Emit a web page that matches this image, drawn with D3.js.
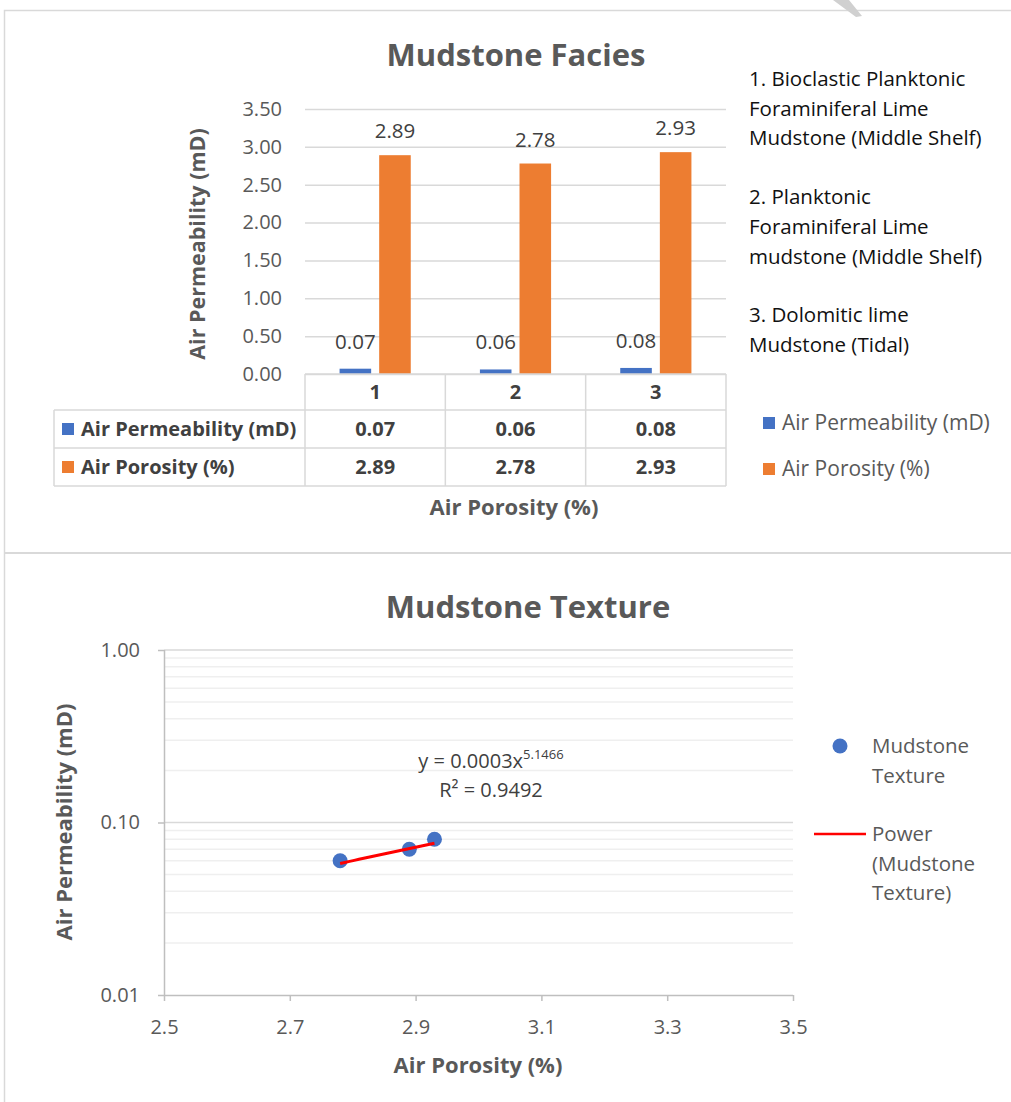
<!DOCTYPE html>
<html>
<head>
<meta charset="utf-8">
<script src="https://cdn.jsdelivr.net/npm/d3@7"></script>
<style>
  html, body { margin: 0; padding: 0; background: #fff; }
  svg { display: block; font-family: "Open Sans", "Noto Sans", sans-serif; }
</style>
</head>
<body>
<svg id="chart" width="1011" height="1102"></svg>
<script>
// ---- data ----
const categories = ["1", "2", "3"];
const permeability = [0.07, 0.06, 0.08];      // Air Permeability (mD)
const porosity = [2.89, 2.78, 2.93];          // Air Porosity (%)
const seriesNames = ["Air Permeability (mD)", "Air Porosity (%)"];
const seriesColors = ["#4472C4", "#ED7D31"];
const barTicks = [0, 0.5, 1, 1.5, 2, 2.5, 3, 3.5];
const faciesNotes = [
  ["1. Bioclastic Planktonic", "Foraminiferal Lime", "Mudstone (Middle Shelf)"],
  ["2. Planktonic", "Foraminiferal Lime", "mudstone (Middle Shelf)"],
  ["3. Dolomitic lime", "Mudstone (Tidal)"]
];
const scatterXTicks = [2.5, 2.7, 2.9, 3.1, 3.3, 3.5];
const scatterYTicks = [0.01, 0.1, 1];
const trendA = 0.0003, trendB = 5.1466, trendR2 = 0.9492;

const svg = d3.select("#chart");
const textGray = "#595959", darkText = "#404040", grid = "#d9d9d9";

// ---- frame ----
svg.append("path").attr("d", "M4.5,1102V10.5H1011").attr("fill", "none").attr("stroke", grid).attr("stroke-width", 1.5);
svg.append("line").attr("x1", 4).attr("x2", 1011).attr("y1", 553).attr("y2", 553).attr("stroke", grid).attr("stroke-width", 2);
svg.append("path").attr("d", "M833,0L849,0L862,16L856,17Z").attr("fill", "#d0d0d0");

// ================= Mudstone Facies (column chart with data table) =================
const g1 = svg.append("g");
g1.append("text").attr("x", 516).attr("y", 66).attr("text-anchor", "middle")
  .attr("font-size", 31).attr("font-weight", 700).attr("fill", textGray).text("Mudstone Facies");

const x1 = d3.scaleBand().domain(categories).range([305, 726]);
const y1 = d3.scaleLinear().domain([0, 3.5]).range([374, 109]);

// gridlines + tick labels
const yAxis1 = d3.axisLeft(y1).tickValues(barTicks).tickFormat(d3.format(".2f")).tickSize(-(726 - 305)).tickPadding(23);
const ya1 = g1.append("g").attr("transform", "translate(305,0)").call(yAxis1);
ya1.select(".domain").remove();
ya1.selectAll(".tick line").attr("stroke", grid).attr("stroke-width", 1.5);
ya1.selectAll(".tick text").attr("font-size", 20).attr("fill", textGray).attr("font-family", "Open Sans");

g1.append("text").attr("transform", "translate(205,244) rotate(-90)").attr("text-anchor", "middle")
  .attr("font-size", 21.5).attr("font-weight", 700).attr("fill", textGray).text("Air Permeability (mD)");

// bars
const bw = x1.bandwidth();
const barFrac = 0.225, innerGap = 0.0286;
const series = [permeability, porosity];
series.forEach((vals, si) => {
  const off = si === 0 ? 0.5 - innerGap - barFrac : 0.5 + innerGap;
  const gs = g1.append("g");
  gs.selectAll("rect").data(vals).enter().append("rect")
    .attr("x", (d, i) => x1(categories[i]) + bw * off)
    .attr("width", bw * barFrac)
    .attr("y", d => y1(d))
    .attr("height", d => y1(0) - y1(d))
    .attr("fill", seriesColors[si]);
  gs.selectAll("text").data(vals).enter().append("text")
    .attr("x", (d, i) => x1(categories[i]) + bw * (off + barFrac / 2))
    .attr("y", d => y1(d) - (si === 0 ? 20 : 17))
    .attr("text-anchor", "middle").attr("font-size", 20.5).attr("fill", darkText)
    .text(d => d3.format(".2f")(d));
});

// data table
const rowY = [374, 410, 448, 486];
const tbl = g1.append("g").attr("stroke", grid).attr("stroke-width", 1.5);
tbl.append("line").attr("x1", 305).attr("x2", 726).attr("y1", rowY[0]).attr("y2", rowY[0]);
rowY.slice(1).forEach(y => tbl.append("line").attr("x1", 54).attr("x2", 726).attr("y1", y).attr("y2", y));
tbl.append("line").attr("x1", 54).attr("x2", 54).attr("y1", rowY[1]).attr("y2", rowY[3]);
[305, 726].concat(categories.slice(1).map(c => x1(c))).forEach(x =>
  tbl.append("line").attr("x1", x).attr("x2", x).attr("y1", rowY[0]).attr("y2", rowY[3]));

g1.selectAll(".hdr").data(categories).enter().append("text")
  .attr("x", d => x1(d) + bw / 2).attr("y", 399).attr("text-anchor", "middle")
  .attr("font-size", 20).attr("font-weight", 700).attr("fill", darkText).text(d => d);

series.forEach((vals, si) => {
  const cy = (rowY[si + 1] + rowY[si + 2]) / 2;
  g1.append("rect").attr("x", 62).attr("y", cy - 6).attr("width", 12).attr("height", 12).attr("fill", seriesColors[si]);
  g1.append("text").attr("x", 81).attr("y", cy + 7).attr("font-size", 20).attr("font-weight", 700)
    .attr("fill", darkText).text(seriesNames[si]);
  g1.selectAll(null).data(vals).enter().append("text")
    .attr("x", (d, i) => x1(categories[i]) + bw / 2).attr("y", cy + 7).attr("text-anchor", "middle")
    .attr("font-size", 20).attr("font-weight", 700).attr("fill", darkText).text(d => d3.format(".2f")(d));
});

g1.append("text").attr("x", 514).attr("y", 515).attr("text-anchor", "middle")
  .attr("font-size", 22).attr("font-weight", 700).attr("fill", textGray).text("Air Porosity (%)");

// facies notes
let ny = 86;
faciesNotes.forEach(block => {
  block.forEach(line => {
    g1.append("text").attr("x", 749).attr("y", ny).attr("font-size", 20.5).attr("fill", "#111").text(line);
    ny += 29.7;
  });
  ny += 29;
});

// legend
seriesNames.forEach((n, i) => {
  const cy = 423 + i * 46;
  g1.append("rect").attr("x", 763).attr("y", cy - 6).attr("width", 12).attr("height", 12).attr("fill", seriesColors[i]);
  g1.append("text").attr("x", 782).attr("y", cy + 7).attr("font-size", 21).attr("fill", textGray).text(n);
});

// ================= Mudstone Texture (log-scale scatter) =================
const g2 = svg.append("g");
g2.append("text").attr("x", 528).attr("y", 618).attr("text-anchor", "middle")
  .attr("font-size", 31).attr("font-weight", 700).attr("fill", textGray).text("Mudstone Texture");

const x2 = d3.scaleLinear().domain([2.5, 3.5]).range([164, 793]);
const y2 = d3.scaleLog().domain([0.01, 1]).range([995, 650]);

// minor + major gridlines
const minorVals = [];
[0.01, 0.1].forEach(dec => { for (let k = 2; k <= 9; k++) minorVals.push(dec * k); });
g2.append("g").selectAll("line").data(minorVals).enter().append("line")
  .attr("x1", 164).attr("x2", 793).attr("y1", d => y2(d)).attr("y2", d => y2(d))
  .attr("stroke", "#efefef").attr("stroke-width", 1.5);
g2.append("g").selectAll("line").data([0.1, 1]).enter().append("line")
  .attr("x1", 164).attr("x2", 793).attr("y1", d => y2(d)).attr("y2", d => y2(d))
  .attr("stroke", grid).attr("stroke-width", 1.5);

const xAxis2 = d3.axisBottom(x2).tickValues(scatterXTicks).tickFormat(d3.format(".1f")).tickSize(6).tickPadding(19);
const xa2 = g2.append("g").attr("transform", "translate(0,995)").call(xAxis2);
xa2.select(".domain").attr("stroke", "#bfbfbf").attr("stroke-width", 1.5).attr("d", "M164,0.5H793");
xa2.selectAll(".tick line").attr("stroke", "#bfbfbf").attr("stroke-width", 1.5);
xa2.selectAll(".tick text").attr("font-size", 20).attr("fill", textGray).attr("font-family", "Open Sans");

const yAxis2 = d3.axisLeft(y2).tickValues(scatterYTicks).tickFormat(d3.format(".2f")).tickSize(6).tickPadding(18);
const ya2 = g2.append("g").attr("transform", "translate(164,0)").call(yAxis2);
ya2.select(".domain").attr("stroke", "#bfbfbf").attr("stroke-width", 1.5).attr("d", "M0.5,650V995");
ya2.selectAll(".tick line").attr("stroke", "#bfbfbf").attr("stroke-width", 1.5);
ya2.selectAll(".tick text").attr("font-size", 20).attr("fill", textGray).attr("font-family", "Open Sans");

g2.append("text").attr("transform", "translate(72,822) rotate(-90)").attr("text-anchor", "middle")
  .attr("font-size", 22).attr("font-weight", 700).attr("fill", textGray).text("Air Permeability (mD)");
g2.append("text").attr("x", 478).attr("y", 1073).attr("text-anchor", "middle")
  .attr("font-size", 22).attr("font-weight", 700).attr("fill", textGray).text("Air Porosity (%)");

// points
const pts = porosity.map((p, i) => ({ x: p, y: permeability[i] }));
g2.append("g").selectAll("circle").data(pts).enter().append("circle")
  .attr("cx", d => x2(d.x)).attr("cy", d => y2(d.y)).attr("r", 7.5).attr("fill", "#4472C4");

// power trendline y = a*x^b over the data range
const xMin = d3.min(porosity), xMax = d3.max(porosity);
const trendPts = d3.range(0, 21).map(i => {
  const xv = xMin + (xMax - xMin) * i / 20;
  return [x2(xv), y2(trendA * Math.pow(xv, trendB))];
});
g2.append("path").attr("d", d3.line()(trendPts)).attr("fill", "none").attr("stroke", "#FF0000").attr("stroke-width", 3);

// equation label
const eq = g2.append("text").attr("x", 491).attr("y", 768).attr("text-anchor", "middle")
  .attr("font-size", 20).attr("fill", darkText);
eq.append("tspan").text("y = " + trendA + "x");
eq.append("tspan").attr("font-size", 13).attr("dy", -9).text(trendB);
const r2 = g2.append("text").attr("x", 491).attr("y", 797).attr("text-anchor", "middle")
  .attr("font-size", 20).attr("fill", darkText);
r2.append("tspan").text("R² = " + trendR2);

// legend
g2.append("circle").attr("cx", 840).attr("cy", 746).attr("r", 7.5).attr("fill", "#4472C4");
["Mudstone", "Texture"].forEach((t, i) =>
  g2.append("text").attr("x", 872).attr("y", 753 + i * 29.5).attr("font-size", 20.5).attr("fill", textGray).text(t));
g2.append("line").attr("x1", 814).attr("x2", 866).attr("y1", 834).attr("y2", 834).attr("stroke", "#FF0000").attr("stroke-width", 2.5);
["Power", "(Mudstone", "Texture)"].forEach((t, i) =>
  g2.append("text").attr("x", 872).attr("y", 841 + i * 29.5).attr("font-size", 20.5).attr("fill", textGray).text(t));
</script>
</body>
</html>
